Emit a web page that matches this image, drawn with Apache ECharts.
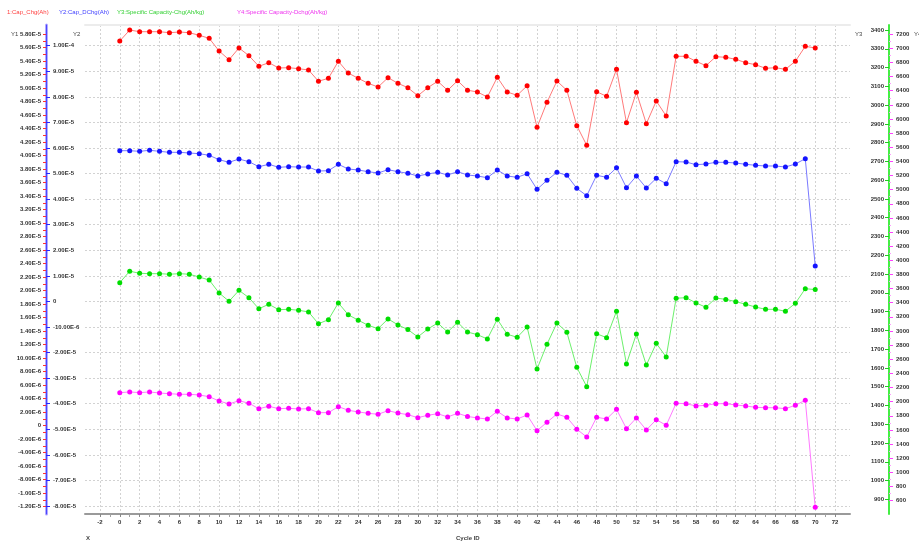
<!DOCTYPE html>
<html>
<head>
<meta charset="utf-8">
<script src="https://cdn.jsdelivr.net/npm/echarts@6/dist/echarts.min.js"></script>
<style>
  html, body { margin: 0; padding: 0; background: #ffffff; }
  #chart { width: 919px; height: 542px; }
</style>
</head>
<body>
<div id="chart"></div>
<script>
// Cycle numbers
const cycles = [0, 1, 2, 3, 4, 5, 6, 7, 8, 9,
  10, 11, 12, 13, 14, 15, 16, 17, 18, 19,
  20, 21, 22, 23, 24, 25, 26, 27, 28, 29,
  30, 31, 32, 33, 34, 35, 36, 37, 38, 39,
  40, 41, 42, 43, 44, 45, 46, 47, 48, 49,
  50, 51, 52, 53, 54, 55, 56, 57, 58, 59,
  60, 61, 62, 63, 64, 65, 66, 67, 68, 69, 70];

// Y1: charge capacity (Ah)
const capChg = [5.696e-5, 5.859e-5, 5.834e-5, 5.834e-5, 5.834e-5, 5.819e-5, 5.830e-5, 5.819e-5, 5.781e-5, 5.736e-5,
  5.548e-5, 5.419e-5, 5.593e-5, 5.479e-5, 5.322e-5, 5.375e-5, 5.297e-5, 5.301e-5, 5.286e-5, 5.267e-5,
  5.100e-5, 5.144e-5, 5.396e-5, 5.222e-5, 5.144e-5, 5.070e-5, 5.015e-5, 5.153e-5, 5.070e-5, 5.005e-5,
  4.886e-5, 5.005e-5, 5.100e-5, 4.966e-5, 5.108e-5, 4.968e-5, 4.941e-5, 4.867e-5, 5.159e-5, 4.941e-5,
  4.892e-5, 5.034e-5, 4.418e-5, 4.789e-5, 5.104e-5, 4.966e-5, 4.442e-5, 4.152e-5, 4.946e-5, 4.877e-5,
  5.277e-5, 4.487e-5, 4.937e-5, 4.472e-5, 4.808e-5, 4.586e-5, 5.470e-5, 5.470e-5, 5.396e-5, 5.331e-5,
  5.464e-5, 5.455e-5, 5.425e-5, 5.375e-5, 5.345e-5, 5.292e-5, 5.301e-5, 5.277e-5, 5.396e-5, 5.618e-5, 5.593e-5];

// Y2: discharge capacity (Ah)
const capDchg = [5.894e-5, 5.894e-5, 5.870e-5, 5.910e-5, 5.870e-5, 5.831e-5, 5.831e-5, 5.804e-5, 5.777e-5, 5.714e-5,
  5.542e-5, 5.440e-5, 5.569e-5, 5.464e-5, 5.268e-5, 5.362e-5, 5.245e-5, 5.268e-5, 5.256e-5, 5.256e-5,
  5.100e-5, 5.112e-5, 5.362e-5, 5.178e-5, 5.139e-5, 5.073e-5, 5.022e-5, 5.151e-5, 5.073e-5, 5.010e-5,
  4.904e-5, 4.983e-5, 5.049e-5, 4.944e-5, 5.073e-5, 4.944e-5, 4.904e-5, 4.838e-5, 5.139e-5, 4.904e-5,
  4.854e-5, 4.994e-5, 4.384e-5, 4.736e-5, 5.049e-5, 4.932e-5, 4.423e-5, 4.134e-5, 4.932e-5, 4.854e-5,
  5.229e-5, 4.447e-5, 4.904e-5, 4.435e-5, 4.815e-5, 4.603e-5, 5.464e-5, 5.452e-5, 5.346e-5, 5.374e-5,
  5.440e-5, 5.440e-5, 5.413e-5, 5.362e-5, 5.323e-5, 5.296e-5, 5.296e-5, 5.256e-5, 5.374e-5, 5.581e-5, 1.385e-5];

// Y3: specific charge capacity (Ah/kg)
const specChg = [2054, 2115, 2104, 2102, 2102, 2099, 2102, 2099, 2084, 2068,
  1999, 1955, 2013, 1974, 1915, 1939, 1910, 1912, 1907, 1898,
  1835, 1857, 1946, 1883, 1854, 1827, 1809, 1861, 1829, 1804,
  1765, 1807, 1839, 1791, 1843, 1791, 1777, 1754, 1859, 1779,
  1763, 1818, 1594, 1726, 1839, 1790, 1603, 1500, 1782, 1761,
  1902, 1621, 1781, 1615, 1731, 1658, 1971, 1974, 1946, 1923,
  1972, 1965, 1953, 1939, 1924, 1912, 1912, 1902, 1944, 2022, 2017];

// Y4: specific discharge capacity (Ah/kg)
const specDchg = [2127, 2137, 2127, 2137, 2122, 2112, 2104, 2104, 2094, 2070,
  2009, 1967, 2013, 1977, 1900, 1934, 1900, 1906, 1896, 1900,
  1844, 1844, 1929, 1878, 1854, 1835, 1821, 1872, 1839, 1815,
  1773, 1807, 1829, 1783, 1835, 1790, 1769, 1754, 1863, 1769,
  1754, 1811, 1589, 1708, 1825, 1779, 1609, 1500, 1779, 1754,
  1892, 1617, 1769, 1599, 1745, 1665, 1977, 1971, 1938, 1948,
  1971, 1971, 1953, 1938, 1920, 1914, 1914, 1900, 1948, 2019, 505];

// Axis tick labels, as printed
const xTickLabels = ['-2', '0', '2', '4', '6', '8', '10', '12', '14', '16', '18', '20', '22', '24', '26', '28', '30',
  '32', '34', '36', '38', '40', '42', '44', '46', '48', '50', '52', '54', '56', '58', '60', '62', '64', '66', '68', '70', '72'];
const y1TickLabels = ['5.80E-5', '5.60E-5', '5.40E-5', '5.20E-5', '5.00E-5', '4.80E-5', '4.60E-5', '4.40E-5', '4.20E-5',
  '4.00E-5', '3.80E-5', '3.60E-5', '3.40E-5', '3.20E-5', '3.00E-5', '2.80E-5', '2.60E-5', '2.40E-5', '2.20E-5',
  '2.00E-5', '1.80E-5', '1.60E-5', '1.40E-5', '1.20E-5', '10.00E-6', '8.00E-6', '6.00E-6', '4.00E-6', '2.00E-6',
  '0', '-2.00E-6', '-4.00E-6', '-6.00E-6', '-8.00E-6', '-1.00E-5', '-1.20E-5'];
const y2TickLabels = ['1.00E-4', '9.00E-5', '8.00E-5', '7.00E-5', '6.00E-5', '5.00E-5', '4.00E-5', '3.00E-5', '2.00E-5',
  '1.00E-5', '0', '-10.00E-6', '-2.00E-5', '-3.00E-5', '-4.00E-5', '-5.00E-5', '-6.00E-5', '-7.00E-5', '-8.00E-5'];
const y3TickLabels = ['3400', '3300', '3200', '3100', '3000', '2900', '2800', '2700', '2600', '2500', '2400', '2300',
  '2200', '2100', '2000', '1900', '1800', '1700', '1600', '1500', '1400', '1300', '1200', '1100', '1000', '900'];
const y4TickLabels = ['7200', '7000', '6800', '6600', '6400', '6200', '6000', '5800', '5600', '5400', '5200', '5000',
  '4800', '4600', '4400', '4200', '4000', '3800', '3600', '3400', '3200', '3000', '2800', '2600', '2400', '2200',
  '2000', '1800', '1600', '1400', '1200', '1000', '800', '600'];

const FONT = 'Liberation Sans';
const TEXT = '#333333';

function valuesOf(labels) { return labels.map(Number); }
function between(vals) {
  const out = [];
  for (let i = 0; i < vals.length - 1; i++) out.push((vals[i] + vals[i + 1]) / 2);
  return out;
}
function labelFor(labels) {
  const vals = valuesOf(labels);
  return function (v) {
    for (let i = 0; i < vals.length; i++) {
      if (Math.abs(vals[i] - v) <= Math.abs(vals[i]) * 1e-6 + 1e-15) return labels[i];
    }
    return '';
  };
}
function pairs(ys) { return cycles.map((c, i) => [c, ys[i]]); }

const xVals = valuesOf(xTickLabels);
const y1Vals = valuesOf(y1TickLabels);
const y2Vals = valuesOf(y2TickLabels);
const y3Vals = valuesOf(y3TickLabels);
const y4Vals = valuesOf(y4TickLabels);

const labelFont = { fontSize: 6, fontWeight: 'bold', color: TEXT, fontFamily: FONT };
const gridDash = { color: '#d2d2d2', width: 1, type: [2, 2] };

const chart = echarts.init(document.getElementById('chart'), null, { renderer: 'canvas' });

function lineSeries(name, data, yIndex, lineColor, dotColor) {
  return {
    name: name, type: 'line', xAxisIndex: 0, yAxisIndex: yIndex, data: pairs(data),
    symbol: 'circle', symbolSize: 5, showSymbol: true,
    lineStyle: { color: lineColor, width: 1 },
    itemStyle: { color: dotColor },
    animation: false, z: 3
  };
}

chart.setOption({
  backgroundColor: '#ffffff',
  animation: false,
  grid: { left: 85, right: 69, top: 25, bottom: 28, containLabel: false, outerBoundsMode: 'none' },
  xAxis: [
    {
      type: 'value', position: 'bottom', min: -3.5, max: 73.5,
      axisLine: { show: true, onZero: false, lineStyle: { color: '#9a9a9a', width: 2 } },
      axisTick: { show: true, customValues: xVals, length: 3, lineStyle: { color: '#888888' } },
      axisLabel: { customValues: xVals, formatter: labelFor(xTickLabels), margin: 5, ...labelFont },
      splitLine: { show: true, lineStyle: gridDash }
    },
    {
      type: 'value', position: 'bottom', min: -3.5, max: 73.5,
      axisLine: { show: false, onZero: false },
      axisTick: { show: true, customValues: between(xVals), length: 3, lineStyle: { color: '#a0a0a0' } },
      axisLabel: { show: false },
      splitLine: { show: false }
    },
    {
      type: 'value', position: 'top', min: -3.5, max: 73.5,
      axisLine: { show: true, onZero: false, lineStyle: { color: '#ececec', width: 2 } },
      axisTick: { show: false }, axisLabel: { show: false }, splitLine: { show: false }
    }
  ],
  yAxis: [
    { // Y1
      type: 'value', position: 'left', offset: 39, min: -1.3077e-5, max: 5.9333e-5,
      axisLine: { show: true, onZero: false, lineStyle: { color: '#b4a8ff', width: 3 } },
      axisTick: { show: true, customValues: y1Vals.concat(between(y1Vals)), length: 3, lineStyle: { color: '#ff3030' } },
      axisLabel: { customValues: y1Vals, formatter: labelFor(y1TickLabels), margin: 5, ...labelFont },
      splitLine: { show: false }
    },
    { // Y2
      type: 'value', position: 'left', offset: 39, min: -8.3125e-5, max: 1.08095e-4,
      axisLine: { show: true, onZero: false, lineStyle: { color: '#4848ff', width: 1 } },
      axisTick: { show: true, inside: true, customValues: y2Vals, length: 4, lineStyle: { color: '#2828ff' } },
      axisLabel: { inside: true, customValues: y2Vals, formatter: labelFor(y2TickLabels), margin: 7, ...labelFont },
      splitLine: { show: true, lineStyle: gridDash }
    },
    { // Y3
      type: 'value', position: 'right', offset: 39, min: 821.7, max: 3426.6,
      axisLine: { show: true, onZero: false, lineStyle: { color: '#44ee44', width: 2 } },
      axisTick: { show: true, inside: true, customValues: y3Vals, length: 4, lineStyle: { color: '#22cc22' } },
      axisLabel: { inside: true, customValues: y3Vals, formatter: labelFor(y3TickLabels), margin: 5, ...labelFont },
      splitLine: { show: false }
    },
    { // Y4
      type: 'value', position: 'right', offset: 39, min: 409.7, max: 7330.2,
      axisLine: { show: false, onZero: false },
      axisTick: { show: true, customValues: y4Vals, length: 4, lineStyle: { color: '#ff40ff' } },
      axisLabel: { customValues: y4Vals, formatter: labelFor(y4TickLabels), margin: 7, ...labelFont },
      splitLine: { show: false }
    },
    { // Y4 minor ticks
      type: 'value', position: 'right', offset: 39, min: 409.7, max: 7330.2,
      axisLine: { show: false, onZero: false },
      axisTick: { show: true, customValues: between(y4Vals), length: 2, lineStyle: { color: '#ff9cff' } },
      axisLabel: { show: false },
      splitLine: { show: false }
    }
  ],
  series: [
    lineSeries('1:Cap_Chg(Ah)', capChg, 0, '#ff7a7a', '#ff0000'),
    lineSeries('Y2:Cap_DChg(Ah)', capDchg, 1, '#7a7aff', '#1414ff'),
    lineSeries('Y3:Specific Capacity-Chg(Ah/kg)', specChg, 2, '#6cf06c', '#00dd00'),
    lineSeries('Y4:Specific Capacity-Dchg(Ah/kg)', specDchg, 3, '#ff7aff', '#ff00ff')
  ],
  graphic: [
    // series captions along the top
    { type: 'text', left: 7, top: 9, style: { text: '1:Cap_Chg(Ah)', fill: '#ff4040', font: '6px "Liberation Sans"' } },
    { type: 'text', left: 59, top: 9, style: { text: 'Y2:Cap_DChg(Ah)', fill: '#4040ff', font: '6px "Liberation Sans"' } },
    { type: 'text', left: 117, top: 9, style: { text: 'Y3:Specific Capacity-Chg(Ah/kg)', fill: '#33d033', font: '6px "Liberation Sans"' } },
    { type: 'text', left: 237, top: 9, style: { text: 'Y4:Specific Capacity-Dchg(Ah/kg)', fill: '#ee33ee', font: '6px "Liberation Sans"' } },
    // axis names
    { type: 'text', left: 11, top: 31, style: { text: 'Y1', fill: '#444', font: '6px "Liberation Sans"' } },
    { type: 'text', left: 73, top: 31, style: { text: 'Y2', fill: '#444', font: '6px "Liberation Sans"' } },
    { type: 'text', left: 855, top: 31, style: { text: 'Y3', fill: '#444', font: '6px "Liberation Sans"' } },
    { type: 'text', left: 914, top: 31, style: { text: 'Y4', fill: '#444', font: '6px "Liberation Sans"' } },
    { type: 'text', left: 86, top: 535, style: { text: 'X', fill: '#444', font: 'bold 6px "Liberation Sans"' } },
    { type: 'text', left: 456, top: 535, style: { text: 'Cycle ID', fill: '#444', font: 'bold 6px "Liberation Sans"' } }
  ]
});
</script>
</body>
</html>
